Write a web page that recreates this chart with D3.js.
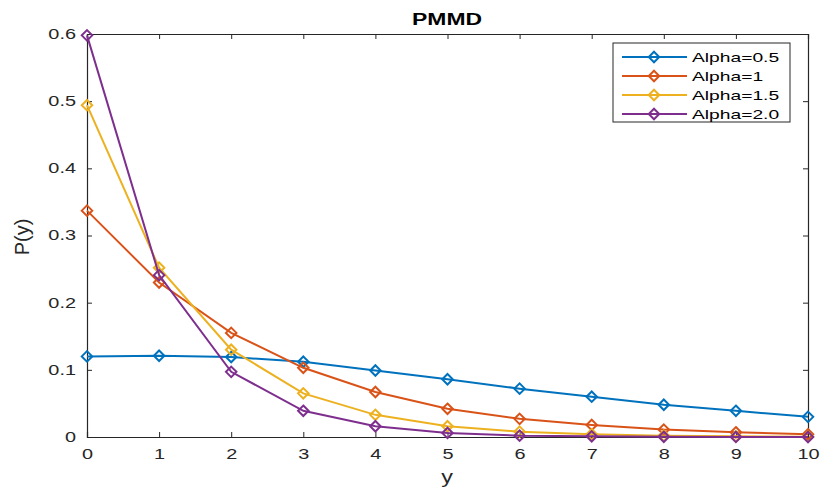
<!DOCTYPE html>
<html>
<head>
<meta charset="utf-8">
<script src="https://cdn.jsdelivr.net/npm/d3@7"></script>
<style>
  body { margin: 0; background: #fff; }
  text { font-family: "Liberation Sans", Arial, sans-serif; }
</style>
</head>
<body>
<script>
// data
let yValues = [0, 1, 2, 3, 4, 5, 6, 7, 8, 9, 10];
let alpha05 = [0.120, 0.121, 0.119, 0.112, 0.099, 0.086, 0.072, 0.060, 0.048, 0.039, 0.030];
let alpha1  = [0.337, 0.230, 0.155, 0.103, 0.067, 0.042, 0.027, 0.018, 0.011, 0.007, 0.004];
let alpha15 = [0.494, 0.252, 0.130, 0.065, 0.033, 0.016, 0.008, 0.004, 0.002, 0.001, 0.0005];
let alpha2  = [0.598, 0.241, 0.097, 0.039, 0.016, 0.006, 0.002, 0.001, 0.0003, 0.0001, 0.0];
let seriesNames = ["Alpha=0.5", "Alpha=1", "Alpha=1.5", "Alpha=2.0"];
let seriesColors = ["#0072BD", "#D95319", "#EDB120", "#7E2F8E"];
let yTicks = [0, 0.1, 0.2, 0.3, 0.4, 0.5, 0.6];

let allSeries = [alpha05, alpha1, alpha15, alpha2];

let margin = {top: 34, left: 87, bottom: 54, right: 13},
    width = 821 - margin.left - margin.right,
    height = 491 - margin.top - margin.bottom;

// the source picture is squeezed, so horizontal text looks wider
let stretch = 1.42;

let svg = d3.select("body").append("svg")
  .attr("width", 821)
  .attr("height", 491)
  .append("g")
  .attr("transform", "translate(" + margin.left + "," + margin.top + ")");

let x = d3.scaleLinear().domain([0, 10]).range([0, width]);
let y = d3.scaleLinear().domain([0, 0.6]).range([height, 0]);

let axisColor = "#262626";

// axes (MATLAB-style: ticks inside, box all around)
let xAxis = svg.append("g")
  .attr("transform", "translate(0," + height + ")")
  .call(d3.axisBottom(x).tickValues(yValues).tickSize(-5).tickPadding(12).tickFormat(d3.format("d")));
let xTop = svg.append("g")
  .call(d3.axisTop(x).tickValues(yValues).tickSize(-5).tickFormat(""));
let yAxis = svg.append("g")
  .call(d3.axisLeft(y).tickValues(yTicks).tickSize(-5).tickPadding(11).tickFormat(function(d) { return d === 0 ? "0" : d3.format(".1f")(d); }));
let yRight = svg.append("g")
  .attr("transform", "translate(" + width + ",0)")
  .call(d3.axisRight(y).tickValues(yTicks).tickSize(-5).tickFormat(""));

[xAxis, xTop, yAxis, yRight].forEach(function(g) {
  g.select(".domain").attr("stroke", axisColor).attr("stroke-width", 1.2);
  g.selectAll(".tick line").attr("stroke", axisColor);
  g.selectAll(".tick text")
    .attr("fill", axisColor)
    .style("font-size", "14px")
    .style("font-family", "Liberation Sans, Arial, sans-serif")
    .each(function() {
      let t = d3.select(this);
      let x0 = +t.attr("x") || 0;
      t.attr("x", 0).attr("transform", "translate(" + x0 + ",0) scale(" + stretch + ",1)");
    });
});

// lines and diamond markers
let line = d3.line()
  .x(function(d, i) { return x(yValues[i]); })
  .y(function(d) { return y(d); });

let diamond = d3.symbol().type(d3.symbolDiamond2).size(70);

allSeries.forEach(function(s, k) {
  svg.append("path")
    .datum(s)
    .attr("fill", "none")
    .attr("stroke", seriesColors[k])
    .attr("stroke-width", 2)
    .attr("d", line);

  svg.selectAll(".m" + k)
    .data(s)
    .enter()
    .append("path")
    .attr("class", "m" + k)
    .attr("d", diamond)
    .attr("transform", function(d, i) { return "translate(" + x(yValues[i]) + "," + y(d) + ")"; })
    .attr("fill", "none")
    .attr("stroke", seriesColors[k])
    .attr("stroke-width", 2);
});

// title and axis labels
svg.append("text")
  .attr("transform", "translate(" + (447 - margin.left) + ",-9) scale(1.43,1)")
  .style("text-anchor", "middle")
  .style("font-weight", "bold")
  .style("font-size", "16px")
  .attr("fill", "#000")
  .text("PMMD");

svg.append("text")
  .attr("transform", "translate(" + (447 - margin.left) + "," + (height + 46) + ") scale(1.3,1)")
  .style("text-anchor", "middle")
  .style("font-size", "18px")
  .attr("fill", axisColor)
  .text("y");

svg.append("text")
  .attr("transform", "rotate(-90)")
  .attr("x", -(237 - margin.top))
  .attr("y", -58)
  .style("text-anchor", "middle")
  .style("font-size", "20px")
  .attr("fill", axisColor)
  .text("P(y)");

// legend
let legend = svg.append("g")
  .attr("class", "legend")
  .attr("transform", "translate(" + (613 - margin.left) + "," + (43 - margin.top) + ")");

legend.append("rect")
  .attr("width", 177)
  .attr("height", 79)
  .attr("fill", "#fff")
  .attr("stroke", axisColor)
  .attr("stroke-width", 1);

seriesNames.forEach(function(name, k) {
  let row = legend.append("g").attr("transform", "translate(0," + (14 + k * 19) + ")");
  row.append("line")
    .attr("x1", 9).attr("x2", 74)
    .attr("stroke", seriesColors[k]).attr("stroke-width", 2);
  row.append("path")
    .attr("d", diamond)
    .attr("transform", "translate(41,0)")
    .attr("fill", "none")
    .attr("stroke", seriesColors[k])
    .attr("stroke-width", 2);
  row.append("text")
    .attr("transform", "translate(79,5) scale(1.48,1)")
    .style("font-size", "13px")
    .attr("fill", "#000")
    .text(name);
});
</script>
</body>
</html>
